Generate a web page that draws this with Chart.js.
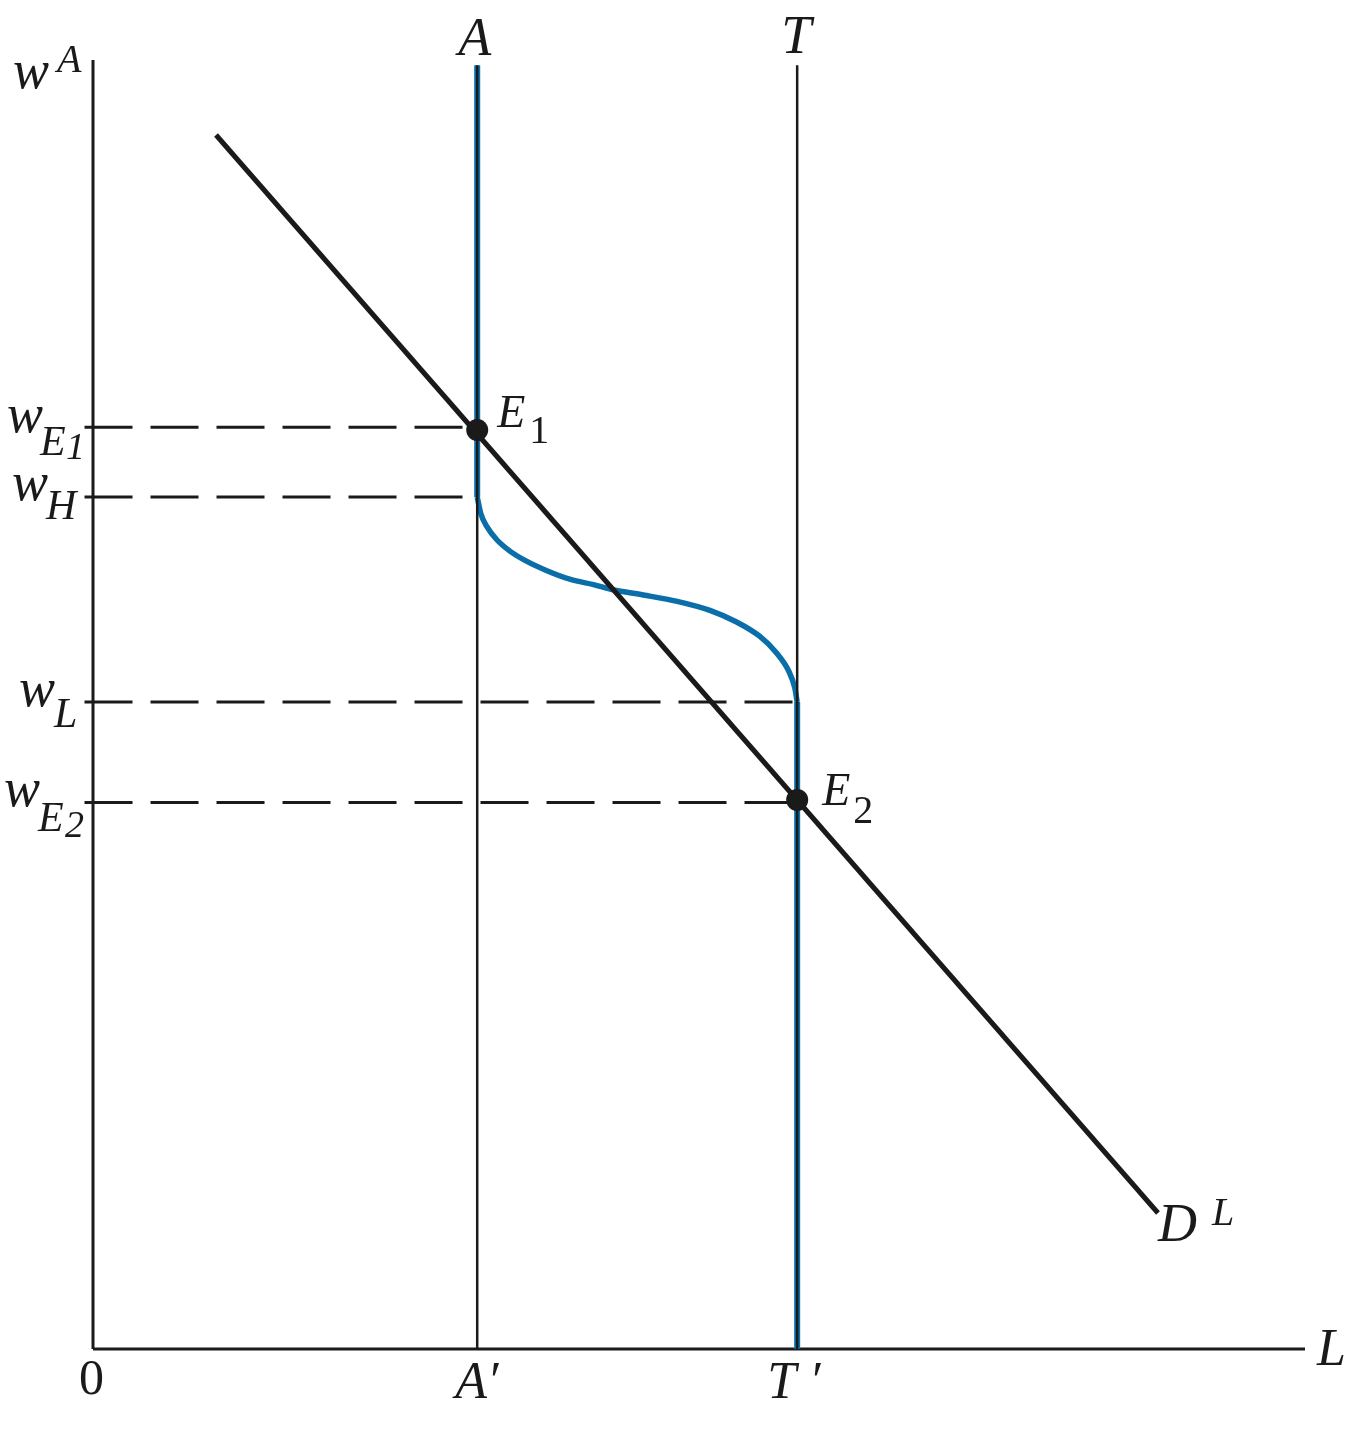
<!DOCTYPE html>
<html>
<head>
<meta charset="utf-8">
<title>Labour market diagram</title>
<script src="https://cdn.jsdelivr.net/npm/chart.js@4.4.0/dist/chart.umd.min.js"></script>
<style>
    body { margin: 0; background: #ffffff; }
    canvas { display: block; }
</style>
</head>
<body>
<canvas id="diagram" width="1368" height="1430"></canvas>
<script>
// Axis units: labour L (x) and wage w (y), both on a 0-100 scale
const xMax = 100;
const yMax = 100;
const lineTop = 99.6;          // where the A and T verticals stop

// Labour quantities
const xA = 31.7;               // A'
const xT = 58.1;               // T'

// Wage levels
const wE1 = 71.5;
const wH = 66.1;
const wL = 50.2;
const wE2 = 42.4;

// Demand curve D^L
const demandX = [10.15, 87.87];
const demandY = [94.18, 10.55];

// Blue supply curve between w_H and w_L
const supplyX = [31.7, 32.0, 32.5, 33.3, 34.4, 35.8, 37.4, 39.4, 41.3, 42.9, 45.4, 48.2, 50.9, 53.1, 55.0, 56.4, 57.4, 57.9, 58.1];
const supplyY = [66.1, 64.8, 63.8, 62.8, 61.9, 61.1, 60.4, 59.7, 59.3, 58.9, 58.5, 58.0, 57.3, 56.4, 55.3, 54.0, 52.6, 51.3, 50.2];

// Equilibria
const eqX = [xA, xT];
const eqY = [71.3, 42.6];

const BLACK = '#1a1a1a';
const BLUE = '#0a6fa9';
const SERIF = '"Liberation Serif", "DejaVu Serif", serif';

function pts(xs, ys) {
    return xs.map((x, i) => ({ x: x, y: ys[i] }));
}

function segment(x1, y1, x2, y2, color, width, dash) {
    return {
        data: [{ x: x1, y: y1 }, { x: x2, y: y2 }],
        showLine: true,
        borderColor: color,
        borderWidth: width,
        borderDash: dash || [],
        pointRadius: 0,
        borderCapStyle: 'butt',
        clip: false
    };
}

const dash = [48, 18];

// Datasets: first one is drawn on top
const datasets = [
    {
        data: pts(eqX, eqY),
        showLine: false,
        pointRadius: 11,
        pointBackgroundColor: BLACK,
        pointBorderWidth: 0,
        clip: false
    },
    segment(demandX[0], demandY[0], demandX[1], demandY[1], BLACK, 5),
    segment(xA, 0, xA, lineTop, BLACK, 2.5),
    segment(xT, 0, xT, lineTop, BLACK, 2.5),
    segment(xA, wH, xA, lineTop, BLUE, 6),
    segment(xT, 0, xT, wL, BLUE, 6),
    {
        data: pts(supplyX, supplyY),
        showLine: true,
        borderColor: BLUE,
        borderWidth: 5.5,
        pointRadius: 0,
        cubicInterpolationMode: 'monotone',
        clip: false
    },
    segment(-0.7, wE1, xA, wE1, BLACK, 3, dash),
    segment(-0.7, wH, xA, wH, BLACK, 3, dash),
    segment(-0.7, wL, xT, wL, BLACK, 3, dash),
    segment(-0.7, wE2, xT, wE2, BLACK, 3, dash),
    segment(0, 0, 0, yMax, BLACK, 3),
    segment(0, 0, xMax, 0, BLACK, 3)
];

// Text labels: [text, size, italic, anchor, dx, dy]
// anchor gives x/y in axis units, dx/dy are pixel nudges from it
const labels = [
    ['w', 54, true, [0, yMax], -80, 28],
    ['A', 40, true, [0, yMax], -36, 12],
    ['A', 54, true, [xA, yMax], -19, -5],
    ['T', 54, true, [xT, yMax], -16, -7],
    ['w', 54, true, [0, wE1], -86, 5],
    ['E', 42, true, [0, wE1], -53, 28],
    ['1', 38, true, [0, wE1], -27, 32],
    ['w', 54, true, [0, wH], -81, 3],
    ['H', 42, true, [0, wH], -47, 22],
    ['w', 54, true, [0, wL], -74, 4],
    ['L', 42, true, [0, wL], -39, 25],
    ['w', 54, true, [0, wE2], -89, 4],
    ['E', 42, true, [0, wE2], -55, 29],
    ['2', 38, true, [0, wE2], -28, 35],
    ['E', 46, true, [eqX[0], eqY[0]], 20, -3],
    ['1', 40, false, [eqX[0], eqY[0]], 52, 13],
    ['E', 46, true, [eqX[1], eqY[1]], 25, 5],
    ['2', 40, false, [eqX[1], eqY[1]], 56, 23],
    ['D', 54, true, [demandX[1], demandY[1]], 0, 28],
    ['L', 40, true, [demandX[1], demandY[1]], 54, 12],
    ['L', 52, true, [xMax, 0], 12, 16],
    ['0', 50, false, [0, 0], -14, 45],
    ['A\u2032', 52, true, [xA, 0], -22, 49],
    ['T \u2032', 52, true, [xT, 0], -30, 49]
];

const labelPlugin = {
    id: 'labels',
    afterDraw(chart) {
        const ctx = chart.ctx;
        const xs = chart.scales.x;
        const ys = chart.scales.y;
        ctx.save();
        ctx.fillStyle = BLACK;
        ctx.textBaseline = 'alphabetic';
        ctx.textAlign = 'left';
        labels.forEach(([text, size, italic, anchor, dx, dy]) => {
            ctx.font = (italic ? 'italic ' : '') + size + 'px ' + SERIF;
            const px = xs.getPixelForValue(anchor[0]) + dx;
            const py = ys.getPixelForValue(anchor[1]) + dy;
            ctx.fillText(text, px, py);
        });
        ctx.restore();
    }
};

new Chart(document.getElementById('diagram'), {
    type: 'scatter',
    data: { datasets: datasets },
    options: {
        responsive: false,
        animation: false,
        events: [],
        layout: { padding: { left: 93, right: 63, top: 60, bottom: 81 } },
        scales: {
            x: { type: 'linear', min: 0, max: xMax, display: false },
            y: { type: 'linear', min: 0, max: yMax, display: false }
        },
        plugins: {
            legend: { display: false },
            tooltip: { enabled: false }
        }
    },
    plugins: [labelPlugin]
});
</script>
</body>
</html>
